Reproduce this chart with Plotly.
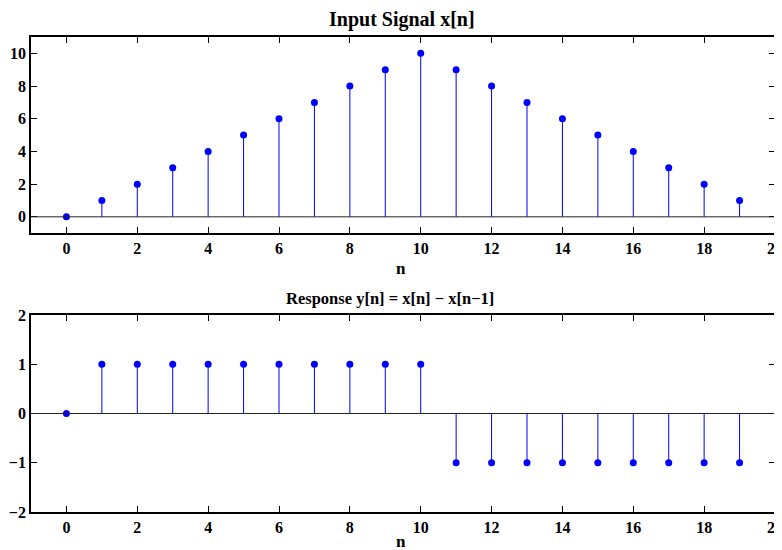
import plotly.graph_objects as go
from plotly.subplots import make_subplots

n = list(range(20))
x_vals = [0, 1, 2, 3, 4, 5, 6, 7, 8, 9, 10, 9, 8, 7, 6, 5, 4, 3, 2, 1]
y_vals = [0, 1, 1, 1, 1, 1, 1, 1, 1, 1, 1, -1, -1, -1, -1, -1, -1, -1, -1, -1]
top_yticks = [0, 2, 4, 6, 8, 10]
bot_yticks = [-2, -1, 0, 1, 2]
xticks = list(range(0, 21, 2))

FONT = "Liberation Serif"
BLUE = "#0000ff"

# page body has an 8px margin: compensate so the plot area lands where intended
fig = make_subplots(rows=2, cols=1)
fig.update_layout(
    width=774, height=542,
    margin=dict(l=23, r=7, t=29, b=38, autoexpand=False),
    paper_bgcolor="white", plot_bgcolor="white",
    showlegend=False,
    font=dict(family=FONT, size=16, color="black"),
)
fig.update_layout(
    yaxis=dict(domain=[0.587, 1.0]),
    yaxis2=dict(domain=[0.0, 0.4147]),
    xaxis=dict(domain=[0, 1]), xaxis2=dict(domain=[0, 1]),
)

def stems(xs, ys):
    sx, sy = [], []
    for a, b in zip(xs, ys):
        sx += [a, a, None]
        sy += [0, b, None]
    return sx, sy

for row, vals in ((1, x_vals), (2, y_vals)):
    sx, sy = stems(n, vals)
    fig.add_trace(go.Scatter(x=sx, y=sy, mode="lines",
                             line=dict(color=BLUE, width=1), hoverinfo="skip"),
                  row=row, col=1)
    fig.add_shape(type="line", xref="x domain" if row == 1 else "x2 domain",
                  yref="y" if row == 1 else "y2",
                  x0=0, x1=1, y0=0, y1=0, line=dict(color="#222222", width=1))
    fig.add_trace(go.Scatter(x=n, y=vals, mode="markers",
                             marker=dict(color=BLUE, size=7)),
                  row=row, col=1)

axis_common = dict(showline=True, linecolor="black", linewidth=1.8, mirror="allticks",
                   ticks="inside", ticklen=6, tickcolor="black", tickwidth=1,
                   showgrid=False, zeroline=False, automargin=False,
                   ticklabeloverflow="allow",
                   tickfont=dict(family=FONT, size=16, color="black", weight="bold"))

fig.update_xaxes(range=[-1, 20], tickvals=xticks, **axis_common)
fig.update_yaxes(range=[-1, 11], tickvals=top_yticks, row=1, col=1, **axis_common)
fig.update_yaxes(range=[-2, 2], tickvals=bot_yticks, row=2, col=1, **axis_common)

PLOT_BOTTOM = 512.0
PLOT_H = 475.0

def ann(text, xpx, ypx, size):
    fig.add_annotation(text="<b>%s</b>" % text,
                       x=(xpx - 31) / 744.0, y=(PLOT_BOTTOM - ypx) / PLOT_H,
                       xref="paper", yref="paper",
                       showarrow=False, xanchor="center", yanchor="middle",
                       font=dict(family=FONT, size=size, color="black"))

ann("Input Signal x[n]", 402, 19, 20)
ann("n", 401, 268, 17)
ann("Response y[n] = x[n] − x[n−1]", 390, 298, 16.5)
ann("n", 401, 541, 17)

fig.write_html("out.html")
